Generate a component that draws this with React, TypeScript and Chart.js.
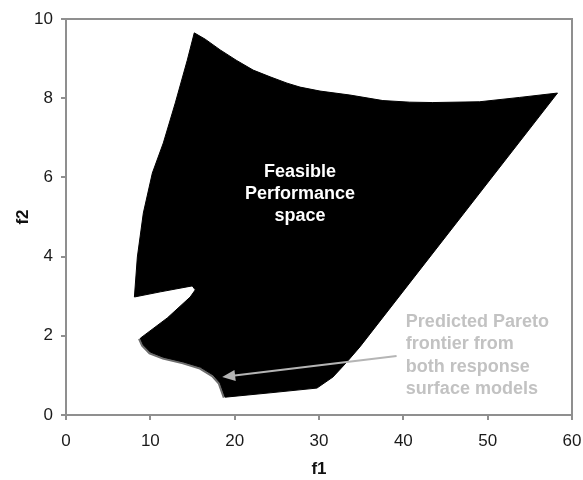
import { useEffect, useRef } from "react";
import { Chart, registerables } from "chart.js";

Chart.register(...registerables);

// Boundary of the feasible performance space (clockwise from the top peak)
const feasibleF1 = [
  15.21, 16.51, 18.28, 20.18, 22.19, 24.2, 26.21, 27.75, 30.12, 33.67, 37.57, 40.77, 43.49, 49.05, 53.79, 58.28,
  34.85, 33.31, 31.66, 29.76, 24.2, 18.88,
  18.28, 17.46, 15.92, 13.91, 11.54, 10.0, 9.17, 8.82,
  12.01, 14.73, 15.33, 14.97, 11.18, 8.11,
  8.46, 9.17, 10.24, 11.54, 12.96, 14.38, 15.21,
];
const feasibleF2 = [
  9.65, 9.49, 9.22, 8.96, 8.71, 8.54, 8.38, 8.28, 8.18, 8.08, 7.94, 7.9, 7.89, 7.91, 8.02, 8.13,
  1.72, 1.34, 0.96, 0.68, 0.56, 0.45,
  0.81, 1.01, 1.21, 1.34, 1.46, 1.59, 1.77, 1.94,
  2.45, 2.98, 3.16, 3.26, 3.11, 2.98,
  3.99, 5.1, 6.11, 6.87, 7.88, 8.96, 9.65,
];

// Predicted Pareto frontier
const paretoF1 = [18.88, 18.28, 17.46, 15.92, 13.91, 11.54, 10.0, 9.17, 8.82];
const paretoF2 = [0.45, 0.81, 1.01, 1.21, 1.34, 1.46, 1.59, 1.77, 1.94];

const xMin = 0;
const xMax = 60;
const xStep = 10;
const yMin = 0;
const yMax = 10;
const yStep = 2;

const xTitle = "f1";
const yTitle = "f2";

const regionLines = ["Feasible", "Performance", "space"];
const regionAt = [27.75, 5.59];

const paretoLines = ["Predicted Pareto", "frontier from", "both response", "surface models"];
const paretoTextAt = [40.3, 2.35];
const arrowFrom = [39.2, 1.49];
const arrowTo = [18.52, 0.96];

const FONT = 'Arial, "Liberation Sans", Helvetica, sans-serif';

const annotations = {
  id: "annotations",
  afterDatasetsDraw(chart: any) {
    const { ctx, chartArea, scales } = chart;
    const x = scales.x;
    const y = scales.y;
    ctx.save();

    // frame
    ctx.strokeStyle = "#8f8f8f";
    ctx.lineWidth = 2;
    ctx.strokeRect(chartArea.left, chartArea.top, chartArea.right - chartArea.left, chartArea.bottom - chartArea.top);

    // region label
    ctx.font = `bold 18px ${FONT}`;
    ctx.fillStyle = "#ffffff";
    ctx.textAlign = "center";
    ctx.textBaseline = "middle";
    const cx = x.getPixelForValue(regionAt[0]);
    const cy = y.getPixelForValue(regionAt[1]);
    regionLines.forEach((t, i) => ctx.fillText(t, cx, cy + (i - 1) * 22));

    // pareto label
    ctx.fillStyle = "#c2c2c2";
    ctx.textAlign = "left";
    const px = x.getPixelForValue(paretoTextAt[0]);
    const py = y.getPixelForValue(paretoTextAt[1]);
    paretoLines.forEach((t, i) => ctx.fillText(t, px, py + i * 22.5));

    // arrow
    const x1 = x.getPixelForValue(arrowFrom[0]);
    const y1 = y.getPixelForValue(arrowFrom[1]);
    const x2 = x.getPixelForValue(arrowTo[0]);
    const y2 = y.getPixelForValue(arrowTo[1]);
    const ang = Math.atan2(y2 - y1, x2 - x1);
    const headLen = 13;
    const headHalf = 5.5;
    ctx.strokeStyle = "#b5b5b5";
    ctx.fillStyle = "#b5b5b5";
    ctx.lineWidth = 2;
    ctx.beginPath();
    ctx.moveTo(x1, y1);
    ctx.lineTo(x2 - Math.cos(ang) * headLen * 0.8, y2 - Math.sin(ang) * headLen * 0.8);
    ctx.stroke();
    const bx = x2 - Math.cos(ang) * headLen;
    const by = y2 - Math.sin(ang) * headLen;
    ctx.beginPath();
    ctx.moveTo(x2, y2);
    ctx.lineTo(bx + Math.sin(ang) * headHalf, by - Math.cos(ang) * headHalf);
    ctx.lineTo(bx - Math.sin(ang) * headHalf, by + Math.cos(ang) * headHalf);
    ctx.closePath();
    ctx.fill();

    ctx.restore();
  },
};

export default function App() {
  const canvasRef = useRef<HTMLCanvasElement | null>(null);

  useEffect(() => {
    if (!canvasRef.current) return;
    const chart = new Chart(canvasRef.current, {
      type: "line",
      data: {
        datasets: [
          {
            label: "Feasible",
            data: feasibleF1.map((v, i) => ({ x: v, y: feasibleF2[i] })),
            borderColor: "#000000",
            backgroundColor: "#000000",
            borderWidth: 1,
            fill: "shape",
            pointRadius: 0,
            tension: 0,
            order: 1,
          },
          {
            label: "Pareto",
            data: paretoF1.map((v, i) => ({ x: v, y: paretoF2[i] })),
            borderColor: "#6e6e6e",
            borderWidth: 5,
            fill: false,
            pointRadius: 0,
            tension: 0,
            order: 2,
          },
        ],
      },
      options: {
        animation: false,
        responsive: true,
        maintainAspectRatio: false,
        events: [],
        layout: { padding: { left: 0, right: 11, top: 19, bottom: 0 } },
        plugins: {
          legend: { display: false },
          tooltip: { enabled: false },
        },
        scales: {
          x: {
            type: "linear",
            min: xMin,
            max: xMax,
            afterFit: (s: any) => {
              s.height = 65;
              s.paddingLeft = 0;
              s.paddingRight = 0;
            },
            ticks: {
              stepSize: xStep,
              color: "#1a1a1a",
              font: { family: FONT, size: 17 },
              padding: 11,
              maxRotation: 0,
            },
            grid: {
              drawOnChartArea: false,
              drawTicks: true,
              tickLength: 5,
              color: "#8f8f8f",
              lineWidth: 2,
            },
            border: { display: true, color: "#8f8f8f", width: 2 },
            title: {
              display: true,
              text: xTitle,
              color: "#111",
              font: { family: FONT, size: 17, weight: "bold", lineHeight: 1.2 },
              padding: { top: 0, bottom: 0 },
            },
          },
          y: {
            type: "linear",
            min: yMin,
            max: yMax,
            afterFit: (s: any) => {
              s.width = 66;
              s.paddingTop = 0;
              s.paddingBottom = 0;
            },
            ticks: {
              stepSize: yStep,
              color: "#1a1a1a",
              font: { family: FONT, size: 17 },
              padding: 8,
            },
            grid: {
              drawOnChartArea: false,
              drawTicks: true,
              tickLength: 5,
              color: "#8f8f8f",
              lineWidth: 2,
            },
            border: { display: true, color: "#8f8f8f", width: 2 },
            title: {
              display: true,
              text: yTitle,
              color: "#111",
              font: { family: FONT, size: 17, weight: "bold", lineHeight: 1.2 },
              padding: { top: 13, bottom: 0 },
            },
          },
        },
      },
      plugins: [annotations],
    });
    return () => chart.destroy();
  }, []);

  return (
    <div style={{ position: "fixed", left: 0, top: 0, width: 583, height: 480, background: "#fff" }}>
      <canvas ref={canvasRef} />
    </div>
  );
}
